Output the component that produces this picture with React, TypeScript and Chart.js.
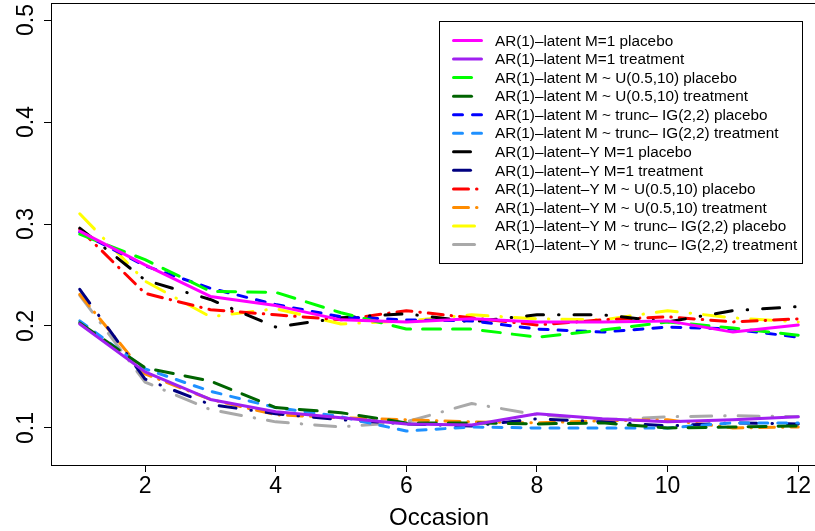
import React, { useEffect, useRef } from "react";
import { Chart, registerables } from "chart.js";

Chart.register(...registerables);

// ---------- data ----------
const occasions = [1, 2, 3, 4, 5, 6, 7, 8, 9, 10, 11, 12];
const xTickValues = [2, 4, 6, 8, 10, 12];
const yTickValues = [0.1, 0.2, 0.3, 0.4, 0.5];
const yTickLabels = ["0.1", "0.2", "0.3", "0.4", "0.5"];
const xTitle = "Occasion";

const seriesLabels = [
  "AR(1)–latent M=1 placebo",
  "AR(1)–latent M=1 treatment",
  "AR(1)–latent M ~ U(0.5,10) placebo",
  "AR(1)–latent M ~ U(0.5,10) treatment",
  "AR(1)–latent M ~ trunc– IG(2,2) placebo",
  "AR(1)–latent M ~ trunc– IG(2,2) treatment",
  "AR(1)–latent–Y M=1 placebo",
  "AR(1)–latent–Y M=1 treatment",
  "AR(1)–latent–Y M ~ U(0.5,10) placebo",
  "AR(1)–latent–Y M ~ U(0.5,10) treatment",
  "AR(1)–latent–Y M ~ trunc– IG(2,2) placebo",
  "AR(1)–latent–Y M ~ trunc– IG(2,2) treatment",
];

const latentM1Placebo = [0.293, 0.26, 0.229, 0.22, 0.206, 0.204, 0.207, 0.204, 0.204, 0.205, 0.194, 0.201];
const latentM1Treatment = [0.202, 0.155, 0.128, 0.116, 0.11, 0.104, 0.103, 0.114, 0.109, 0.106, 0.108, 0.111];
const latentUPlacebo = [0.29, 0.265, 0.234, 0.233, 0.213, 0.197, 0.197, 0.189, 0.196, 0.204, 0.198, 0.191];
const latentUTreatment = [0.203, 0.159, 0.146, 0.12, 0.115, 0.105, 0.105, 0.104, 0.105, 0.1, 0.101, 0.102];
const latentIGPlacebo = [0.292, 0.259, 0.237, 0.221, 0.209, 0.206, 0.205, 0.197, 0.194, 0.199, 0.197, 0.189];
const latentIGTreatment = [0.205, 0.158, 0.136, 0.12, 0.111, 0.097, 0.101, 0.1, 0.1, 0.1, 0.105, 0.105];
const latentYM1Placebo = [0.296, 0.245, 0.226, 0.199, 0.208, 0.212, 0.204, 0.211, 0.211, 0.204, 0.215, 0.219];
const latentYM1Treatment = [0.236, 0.148, 0.123, 0.114, 0.108, 0.104, 0.102, 0.109, 0.106, 0.102, 0.105, 0.104];
const latentYUPlacebo = [0.295, 0.232, 0.216, 0.211, 0.206, 0.215, 0.208, 0.201, 0.206, 0.209, 0.204, 0.207];
const latentYUTreatment = [0.231, 0.153, 0.128, 0.113, 0.11, 0.108, 0.106, 0.105, 0.107, 0.108, 0.1, 0.101];
const latentYIGPlacebo = [0.31, 0.244, 0.209, 0.217, 0.202, 0.205, 0.211, 0.207, 0.206, 0.215, 0.208, 0.204];
const latentYIGTreatment = [0.23, 0.145, 0.118, 0.106, 0.101, 0.106, 0.124, 0.113, 0.108, 0.111, 0.112, 0.111];

const seriesValues = [
  latentM1Placebo,
  latentM1Treatment,
  latentUPlacebo,
  latentUTreatment,
  latentIGPlacebo,
  latentIGTreatment,
  latentYM1Placebo,
  latentYM1Treatment,
  latentYUPlacebo,
  latentYUTreatment,
  latentYIGPlacebo,
  latentYIGTreatment,
];

const seriesColors = [
  "#FF00FF",
  "#A020F0",
  "#00FF00",
  "#006400",
  "#0000FF",
  "#1E90FF",
  "#000000",
  "#000080",
  "#FF0000",
  "#FF8C00",
  "#FFFF00",
  "#A9A9A9",
];

const solid: number[] = [];
const longDash = [18, 12];
const shortDash = [9, 10];
const dashDotA = [17, 15, 0.5, 15];
const dashDotB = [15, 8, 0.5, 8];
const dashDotC = [21, 13, 0.5, 13];
const seriesDashes = [
  solid, solid, longDash, longDash, shortDash, shortDash,
  dashDotA, dashDotA, dashDotB, dashDotB, dashDotC, dashDotC,
];

const FONT = '"Liberation Sans", Arial, Helvetica, sans-serif';

const overlayPlugin = {
  id: "rOverlay",
  afterDraw(chart: any) {
    const ctx = chart.ctx as CanvasRenderingContext2D;
    const area = chart.chartArea;
    const xs = chart.scales.x;
    const ys = chart.scales.y;
    ctx.save();
    // plot frame
    ctx.strokeStyle = "#000";
    ctx.lineWidth = 1;
    ctx.setLineDash([]);
    ctx.strokeRect(Math.round(area.left) + 0.5, Math.round(area.top) + 0.5,
      Math.round(area.right - area.left), Math.round(area.bottom - area.top));

    // x tick labels
    ctx.fillStyle = "#000";
    ctx.font = `23px ${FONT}`;
    ctx.textAlign = "center";
    ctx.textBaseline = "alphabetic";
    xTickValues.forEach((v) => {
      ctx.fillText(String(v), xs.getPixelForValue(v), area.bottom + 28);
    });
    // y tick labels (rotated)
    yTickValues.forEach((v, i) => {
      const py = ys.getPixelForValue(v);
      ctx.save();
      ctx.translate(area.left - 18, py);
      ctx.rotate(-Math.PI / 2);
      ctx.fillText(yTickLabels[i], 0, 0);
      ctx.restore();
    });
    // x title
    ctx.font = `24px ${FONT}`;
    ctx.fillText(xTitle, (area.left + area.right) / 2, area.bottom + 60);

    // legend
    const lx0 = 439.5, ly0 = 21.5, lx1 = 802.5, ly1 = 263.5;
    ctx.fillStyle = "#fff";
    ctx.fillRect(lx0, ly0, lx1 - lx0, ly1 - ly0);
    ctx.strokeStyle = "#000";
    ctx.lineWidth = 1;
    ctx.strokeRect(lx0, ly0, lx1 - lx0, ly1 - ly0);
    ctx.font = `15.3px ${FONT}`;
    ctx.textAlign = "left";
    ctx.textBaseline = "middle";
    chart.data.datasets.forEach((ds: any, i: number) => {
      const cy = 40.5 + i * 18.55;
      ctx.save();
      ctx.beginPath();
      ctx.rect(452, cy - 4, 31, 8);
      ctx.clip();
      ctx.strokeStyle = ds.borderColor;
      ctx.lineWidth = 3;
      ctx.lineCap = "round";
      ctx.setLineDash(ds.borderDash || []);
      ctx.beginPath();
      ctx.moveTo(453.5, cy);
      ctx.lineTo(481.5, cy);
      ctx.stroke();
      ctx.restore();
      ctx.fillStyle = "#000";
      ctx.fillText(ds.label, 495, cy + 1);
    });
    ctx.restore();
  },
};

export default function App() {
  const ref = useRef<HTMLCanvasElement | null>(null);
  useEffect(() => {
    if (!ref.current) return;
    const chart = new Chart(ref.current, {
      type: "line",
      data: {
        datasets: seriesLabels.map((label, i) => ({
          label,
          data: occasions.map((x, j) => ({ x, y: seriesValues[i][j] })),
          borderColor: seriesColors[i],
          backgroundColor: seriesColors[i],
          borderDash: seriesDashes[i],
          borderWidth: 3,
          borderCapStyle: "round",
          borderJoinStyle: "round",
          pointRadius: 0,
          tension: 0,
          fill: false,
        })),
      },
      options: {
        responsive: false,
        maintainAspectRatio: false,
        animation: false,
        events: [],
        layout: { padding: { left: 0, top: 3, right: 13, bottom: 0 } },
        plugins: { legend: { display: false }, tooltip: { enabled: false }, title: { display: false } },
        scales: {
          x: {
            type: "linear",
            min: 0.56,
            max: 12.44,
            afterBuildTicks: (s: any) => { s.ticks = xTickValues.map((v) => ({ value: v })); },
            afterFit: (s: any) => { s.height = 66; },
            grid: { drawOnChartArea: false, drawTicks: true, tickLength: 7, color: "#000", lineWidth: 1 },
            border: { display: true, color: "#000", width: 1 },
            ticks: { display: false },
          },
          y: {
            type: "linear",
            min: 0.0637,
            max: 0.5167,
            afterBuildTicks: (s: any) => { s.ticks = yTickValues.map((v) => ({ value: v })); },
            afterFit: (s: any) => { s.width = 51; },
            grid: { drawOnChartArea: false, drawTicks: true, tickLength: 7, color: "#000", lineWidth: 1 },
            border: { display: true, color: "#000", width: 1 },
            ticks: { display: false },
          },
        },
      } as any,
      plugins: [overlayPlugin],
    });
    return () => chart.destroy();
  }, []);

  return (
    <div style={{ position: "fixed", left: 0, top: 0, width: 815, height: 531, overflow: "hidden", background: "#fff" }}>
      <canvas ref={ref} width={840} height={531} style={{ width: 840, height: 531, display: "block" }} />
    </div>
  );
}
